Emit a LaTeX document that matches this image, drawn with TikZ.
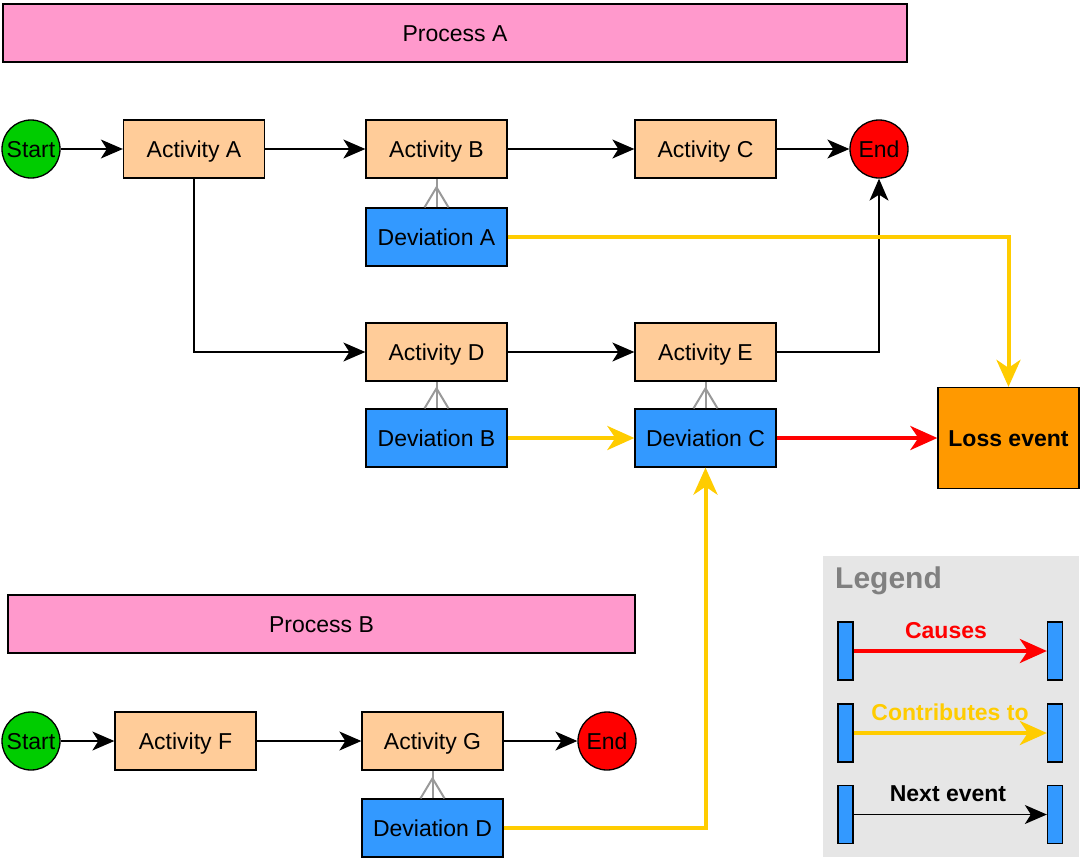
\documentclass[tikz,border=0pt]{standalone}
\usepackage{fontspec}
\setmainfont{Liberation Sans}
\usetikzlibrary{arrows.meta}

\definecolor{procfill}{HTML}{FF99CC}
\definecolor{actfill}{HTML}{FFCC99}
\definecolor{devfill}{HTML}{3399FF}
\definecolor{startfill}{HTML}{00CC00}
\definecolor{endfill}{HTML}{FF0000}
\definecolor{lossfill}{HTML}{FF9900}
\definecolor{contribcol}{HTML}{FFCC00}
\definecolor{causecol}{HTML}{FF0000}
\definecolor{legendfill}{HTML}{E6E6E6}
\definecolor{legendtext}{HTML}{808080}
\definecolor{footcol}{HTML}{999999}

\begin{document}
\begin{tikzpicture}[x=1pt, y=-1pt,
  every node/.style={inner sep=0pt, text height=16.5pt, text depth=0pt, font=\fontsize{23}{27}\selectfont},
  box/.style={draw=black, line width=1.3pt, minimum width=141pt, minimum height=58pt},
  activity/.style={box, fill=actfill},
  deviation/.style={box, fill=devfill},
  process/.style={draw=black, line width=1.3pt, fill=procfill, minimum height=58pt},
  terminal/.style={circle, draw=black, line width=1.3pt, minimum size=58pt},
  startnode/.style={terminal, fill=startfill},
  endnode/.style={terminal, fill=endfill},
  lossbox/.style={draw=black, line width=1.3pt, fill=lossfill, minimum width=141pt, minimum height=101pt, font=\fontsize{23}{27}\selectfont\bfseries},
  legendbar/.style={draw=black, line width=1.3pt, fill=devfill, minimum width=15pt, minimum height=58pt},
  nextev/.style={draw=black, line width=1.3pt, -{Stealth[length=22pt, width=19pt, inset=6pt]}},
  contrib/.style={draw=contribcol, line width=4pt, -{Stealth[length=27pt, width=24pt, inset=8pt]}},
  cause/.style={draw=causecol, line width=4pt, -{Stealth[length=27pt, width=24pt, inset=8pt]}},
  foot/.style={draw=footcol, line width=2pt},
  legendlabel/.style={font=\fontsize{23}{27}\selectfont\bfseries}
]
\useasboundingbox (0,0) rectangle (1081,857);

% ---------- Process A ----------
\node[process, minimum width=904pt] (procA) at (455,33) {Process A};

\node[startnode] (startA) at (31,149) {Start};
\node[activity] (actA) at (194,149) {Activity A};
\node[activity] (actB) at (436.5,149) {Activity B};
\node[activity] (actC) at (705.5,149) {Activity C};
\node[endnode] (endA) at (879,149) {End};

\node[deviation] (devA) at (436.5,237) {Deviation A};

\node[activity] (actD) at (436.5,352) {Activity D};
\node[activity] (actE) at (705.5,352) {Activity E};
\node[deviation] (devB) at (436.5,438) {Deviation B};
\node[deviation] (devC) at (705.5,438) {Deviation C};

\node[lossbox] (loss) at (1008.5,438) {Loss event};

% ---------- Process B ----------
\node[process, minimum width=627pt] (procB) at (321.5,624) {Process B};

\node[startnode] (startB) at (31,741) {Start};
\node[activity] (actF) at (185.5,741) {Activity F};
\node[activity] (actG) at (432.5,741) {Activity G};
\node[endnode] (endB) at (607,741) {End};
\node[deviation] (devD) at (432.5,828) {Deviation D};

% ---------- Sequence flow ----------
\draw[nextev] (startA) -- (actA);
\draw[nextev] (actA) -- (actB);
\draw[nextev] (actB) -- (actC);
\draw[nextev] (actC) -- (endA);
\draw[nextev] (actA.south) |- (actD.west);
\draw[nextev] (actD) -- (actE);
\draw[nextev] (actE.east) -| (endA.south);

\draw[nextev] (startB) -- (actF);
\draw[nextev] (actF) -- (actG);
\draw[nextev] (actG) -- (endB);

% ---------- Deviations attached to activities (crow's foot) ----------
\foreach \dev/\act in {devA/actB, devB/actD, devC/actE, devD/actG} {
  \draw[foot] (\dev.north) -- (\act.south);
  \draw[foot] (\dev.north) ++(-12,0) -- ++(12,-20) -- ++(12,20);
}

% ---------- Contributions and causes ----------
\draw[contrib] (devA.east) -| (loss.north);
\draw[contrib] (devB) -- (devC);
\draw[contrib] (devD.east) -| (devC.south);
\draw[cause] (devC) -- (loss);

% ---------- Legend ----------
\node[fill=legendfill, minimum width=256pt, minimum height=301pt] (legend) at (951,706.5) {};
\node[anchor=west, text=legendtext, text height=21.5pt, font=\fontsize{30}{34}\selectfont\bfseries] (legendtitle) at (835,578) {Legend};

\node[legendbar] (l1a) at (845.5,651) {};
\node[legendbar] (l1b) at (1055,651) {};
\node[legendbar] (l2a) at (845.5,733) {};
\node[legendbar] (l2b) at (1055,733) {};
\node[legendbar] (l3a) at (845.5,814.5) {};
\node[legendbar] (l3b) at (1055,814.5) {};

\draw[cause] (l1a) -- (l1b);
\draw[contrib] (l2a) -- (l2b);
\draw[nextev] (l3a) -- (l3b);

\node[legendlabel, text=causecol] (lab1) at (946,630) {Causes};
\node[legendlabel, text=contribcol] (lab2) at (950,712) {Contributes to};
\node[legendlabel, text=black] (lab3) at (948,793) {Next event};
\end{tikzpicture}
\end{document}
